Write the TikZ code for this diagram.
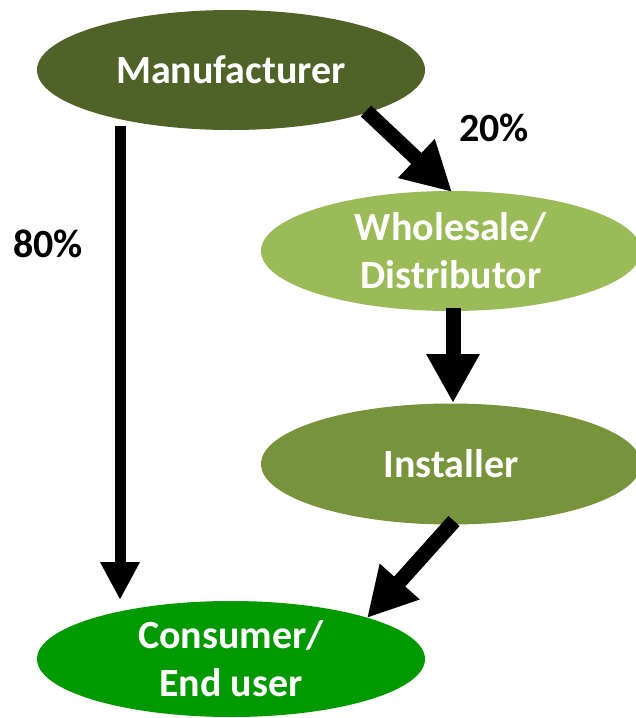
\documentclass[tikz,border=0pt]{standalone}
\usepackage{fontspec}
\setmainfont{Carlito}
\usetikzlibrary{arrows.meta,calc,shapes.geometric}
\definecolor{cMan}{HTML}{4F6228}
\definecolor{cWhole}{HTML}{9BBB59}
\definecolor{cInst}{HTML}{77933C}
\definecolor{cCons}{HTML}{009900}
\tikzset{
  ell/.style={ellipse, draw=none, inner sep=0pt, text=white, align=center,
    font=\bfseries\fontsize{40}{48}\selectfont},
  lbl/.style={inner sep=0pt, text=black, font=\bfseries\fontsize{40}{48}\selectfont},
  thinarr/.style={line width=11pt, -{Triangle[width=37pt,length=38pt]}},
  thickarr/.style={line width=15pt, -{Triangle[width=50pt,length=49pt]}}
}
\begin{document}
\begin{tikzpicture}[x=1pt,y=-1pt]
\useasboundingbox[fill=white] (0,0) rectangle (636,718);
\node[ell, fill=cMan, minimum width=388pt, minimum height=120pt] (m) at (231,70) {Manufacturer};
\node[ell, fill=cWhole, minimum width=380pt, minimum height=120pt] (w) at (451,251) {Wholesale/\\Distributor};
\node[ell, fill=cInst, minimum width=380pt, minimum height=121pt] (i) at (451,464) {Installer};
\node[ell, fill=cCons, minimum width=388pt, minimum height=116pt] (c) at (231,659) {Consumer/\\End user};
\node[lbl] (p20) at (494,128) {20\%};
\node[lbl] (p80) at (48,244) {80\%};
\draw[thinarr] ($(m.center)+(-111,56)$) -- ($(c.center)+(-111,-59)$);
\draw[thickarr] ($(m.center)+(135,41)$) -- ($(w.center)+(1,-59)$);
\draw[thickarr] ($(w.center)+(2,57)$) -- ($(i.center)+(2,-61)$);
\draw[thickarr] ($(i.center)+(3,57)$) -- ($(c.center)+(136,-41)$);
\end{tikzpicture}
\end{document}
